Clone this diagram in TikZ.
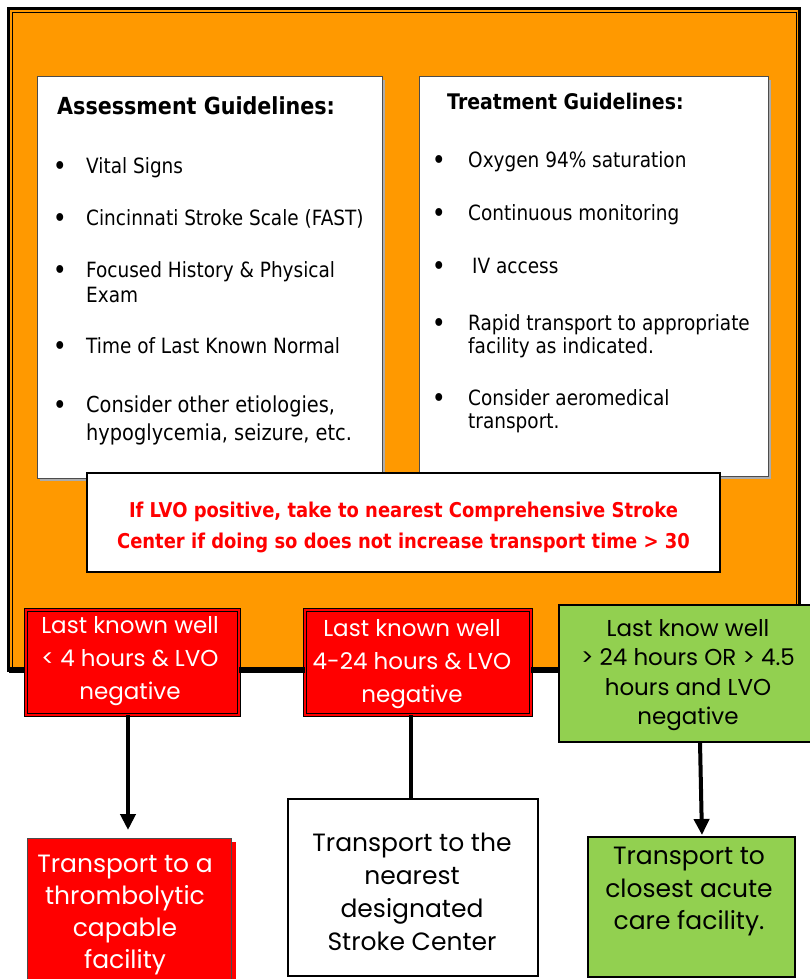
\documentclass[tikz,border=0pt]{standalone}
\usepackage{fontspec}
\newfontfamily\tah{DejaVu Sans}[FakeStretch=0.88]
\newfontfamily\gothic{Poppins}
\usetikzlibrary{arrows.meta}
\definecolor{orng}{HTML}{FF9900}
\definecolor{redbox}{HTML}{FF0000}
\definecolor{grn}{HTML}{92D050}
\begin{document}
\begin{tikzpicture}[x=1pt,y=-1pt,
  boxshape/.style={draw, rectangle, inner sep=0pt, outer sep=0pt},
  body/.style={font=\tah\fontsize{21}{25}\selectfont, anchor=base west, inner sep=0pt},
  bul/.style={font=\tah\fontsize{27}{25}\selectfont, anchor=base, inner sep=0pt},
  ttl/.style={font=\tah\bfseries\fontsize{23.5}{28}\selectfont, anchor=base west, inner sep=0pt},
  gtext/.style={align=center, inner sep=0pt, font=\gothic\fontsize{25}{33}\selectfont},
  mtext/.style={align=center, inner sep=0pt, font=\gothic\fontsize{23}{33}\selectfont},
  conn/.style={line width=4pt},
  arr/.style={conn, -{Triangle[length=16pt,width=15pt]}}]
\useasboundingbox (0,0) rectangle (809,979);
% orange frame
\node[boxshape, fill=orng, line width=3pt, minimum width=791pt, minimum height=662pt] (frame) at (404,339.5) {};
\draw[line width=0.8pt] ([shift={(3.5,3.5)}]frame.north west) rectangle ([shift={(-3.5,-3.5)}]frame.south east);
% assessment box
\fill[gray!65] (40,80) rectangle (385,481);
\node[boxshape, fill=white, draw=gray!60!black, line width=1pt, minimum width=345pt, minimum height=401pt] (assess) at (209.5,277.5) {};
\node[ttl] (atitle) at (57,115) {Assessment Guidelines:};
\node[bul] (ab1) at (60,175) {•};
\node[body] (at1) at (86,173) {Vital Signs};
\node[bul] (ab2) at (60,227) {•};
\node[body] (at2) at (86,225) {Cincinnati Stroke Scale (FAST)};
\node[bul] (ab3) at (60,279) {•};
\node[body] (at3) at (86,277) {Focused History \& Physical};
\node[body] (at3b) at (86,302) {Exam};
\node[bul] (ab4) at (60,355) {•};
\node[body] (at4) at (86,353) {Time of Last Known Normal};
\node[bul] (ab5) at (60,414) {•};
\node[body, font=\tah\fontsize{22}{26}\selectfont] (at5) at (86,412) {Consider other etiologies,};
\node[body, font=\tah\fontsize{22}{26}\selectfont] (at5b) at (86,440) {hypoglycemia, seizure, etc.};
% treatment box
\fill[gray!65] (422,80) rectangle (771,479);
\node[boxshape, fill=white, draw=gray!60!black, line width=1pt, minimum width=349pt, minimum height=399pt] (treat) at (593.5,276.5) {};
\node[ttl, font=\tah\bfseries\fontsize{21.5}{26}\selectfont] (ttitle) at (447,110) {Treatment Guidelines:};
\node[bul] (tb1) at (439,169) {•};
\node[body] (tt1) at (468,167) {Oxygen 94\% saturation};
\node[bul] (tb2) at (439,222) {•};
\node[body] (tt2) at (468,220) {Continuous monitoring};
\node[bul] (tb3) at (439,275) {•};
\node[body] (tt3) at (472,273) {IV access};
\node[bul] (tb4) at (439,332) {•};
\node[body] (tt4) at (468,330) {Rapid transport to appropriate};
\node[body] (tt4b) at (468,353) {facility as indicated.};
\node[bul] (tb5) at (439,407) {•};
\node[body] (tt5) at (468,405) {Consider aeromedical};
\node[body] (tt5b) at (468,428) {transport.};
% LVO box
\node[boxshape, fill=white, line width=2pt, minimum width=633pt, minimum height=99pt] (lvo) at (403.5,522.5) {};
\node[align=center, inner sep=0pt, text=redbox, font=\tah\bfseries\fontsize{20.4}{31}\selectfont] (lvot) at (403.5,527.5) {If LVO positive, take to nearest Comprehensive Stroke\\Center if doing so does not increase transport time > 30};
% decision boxes
\coordinate (bar) at (0,670);
\draw[line width=6pt] (frame.west |- bar) -- (559,670);
\node[boxshape, fill=redbox, line width=1.6pt, double=redbox, double distance=1.2pt, minimum width=213pt, minimum height=105pt] (A) at (132.5,662.5) {};
\node[mtext, text=white] (At) at (130,661.5) {Last known well\\< 4 hours \& LVO\\negative};
\node[boxshape, fill=redbox, line width=1.6pt, double=redbox, double distance=1.2pt, minimum width=226pt, minimum height=105pt] (B) at (418,662.5) {};
\node[mtext, text=white] (Bt) at (412,664.5) {Last known well\\4-24 hours \& LVO\\negative};
\node[boxshape, fill=grn, line width=2pt, minimum width=253pt, minimum height=137pt] (C) at (685.5,673.5) {};
\node[mtext, font=\gothic\fontsize{23}{29.5}\selectfont] (Ct) at (688,675) {Last know well\\> 24 hours OR > 4.5\\hours and LVO\\negative};
% outcome boxes
\fill[redbox] (31,842) rectangle (236,990);
\node[boxshape, fill=redbox, draw=gray!60!black, line width=1pt, minimum width=204pt, minimum height=147pt] (D) at (129,911.5) {};
\node[gtext, font=\gothic\fontsize{25}{32}\selectfont, text=white] (Dt) at (125,915) {Transport to a\\thrombolytic\\capable\\facility};
\node[boxshape, fill=white, line width=1.2pt, minimum width=250pt, minimum height=177pt] (E) at (413,887.5) {};
\node[gtext] (Et) at (412,892) {Transport to the\\nearest\\designated\\Stroke Center};
\node[boxshape, fill=grn, line width=2pt, minimum width=207pt, minimum height=140pt] (F) at (691.5,907) {};
\node[gtext, font=\gothic\fontsize{25}{32}\selectfont] (Ft) at (689,891.5) {Transport to\\closest acute\\care facility.};
% connectors
\draw[line width=6pt] (A.east |- bar) -- (B.west |- bar);
\draw[line width=6pt] (B.east |- bar) -- (C.west |- bar);
\draw[arr, shorten >=8pt] (A.south -| 128,0) -- (D.north -| 128,0);
\draw[conn] (B.south -| 411,0) -- (E.north -| 411,0);
\draw[arr, shorten >=2pt] (C.south -| 700,0) -- (F.north -| 702,0);
\end{tikzpicture}
\end{document}
